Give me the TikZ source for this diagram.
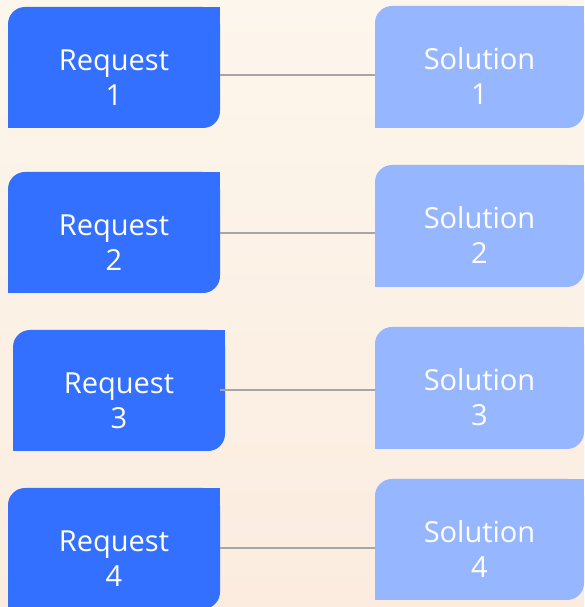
\documentclass[tikz,border=0pt]{standalone}
\usepackage{fontspec}
\setmainfont{Open Sans}
\definecolor{reqblue}{HTML}{3370FF}
\definecolor{solblue}{HTML}{96B6FF}
\definecolor{linkgray}{HTML}{A6A6A6}
\definecolor{bgtop}{HTML}{FDF6EC}
\definecolor{bgbot}{HTML}{FBECDF}
\tikzset{
  reqstyle/.style={fill=reqblue},
  solstyle/.style={fill=solblue},
  boxframe/.style={inner sep=0pt, outer sep=0pt, draw=none, rectangle, rounded corners=17pt},
  lbl/.style={text=white, align=center, inner sep=0pt, font=\fontsize{29}{35}\selectfont},
  link/.style={draw=linkgray, line width=1.6pt},
}
% #1 name, #2 style, #3 x0, #4 ytop(px), #5 x1, #6 ybot(px), #7 word, #8 number
\newcommand\RoundBox[8]{%
  \pgfmathsetmacro\myYT{607-#4}%
  \pgfmathsetmacro\myYB{607-#6}%
  \pgfmathsetmacro\myBW{#5-#3}%
  \pgfmathsetmacro\myBH{#6-#4}%
  \node[boxframe, #2, minimum width=\myBW pt, minimum height=\myBH pt] (#1) at ({(#3+#5)/2},{(\myYT+\myYB)/2}) {};
  \path[#2] (#1.south west) rectangle ++(18,18);
  \path[#2] (#1.north east) rectangle ++(-18,-18);
  \node[lbl, anchor=base] (#1t) at ({(#3+#5)/2},607-#4-99) {#7\\#8};
}
\begin{document}
\begin{tikzpicture}[x=1pt,y=1pt]
\useasboundingbox (0,0) rectangle (584,607);
\shade[top color=bgtop, bottom color=bgbot] (0,0) rectangle (584,607);
\coordinate (l1) at (0,607-75);
\coordinate (l2) at (0,607-233);
\coordinate (l3) at (0,607-390);
\coordinate (l4) at (0,607-548);
\RoundBox{r1}{reqstyle}{8}{7}{220}{128}{Request}{1}
\RoundBox{r2}{reqstyle}{8}{172}{220}{293}{Request}{2}
\RoundBox{r3}{reqstyle}{13}{330}{225}{451}{Request}{3}
\RoundBox{r4}{reqstyle}{8}{488}{220}{609}{Request}{4}
\RoundBox{s1}{solstyle}{375}{6}{584}{128}{Solution}{1}
\RoundBox{s2}{solstyle}{375}{165}{584}{287}{Solution}{2}
\RoundBox{s3}{solstyle}{375}{327}{584}{449}{Solution}{3}
\RoundBox{s4}{solstyle}{375}{479}{584}{600}{Solution}{4}
\draw[link] (r1.east |- l1) -- (s1.west |- l1);
\draw[link] (r2.east |- l2) -- (s2.west |- l2);
\draw[link] ([xshift=-5pt]r3.east |- l3) -- (s3.west |- l3);
\draw[link] (r4.east |- l4) -- (s4.west |- l4);
\end{tikzpicture}
\end{document}
